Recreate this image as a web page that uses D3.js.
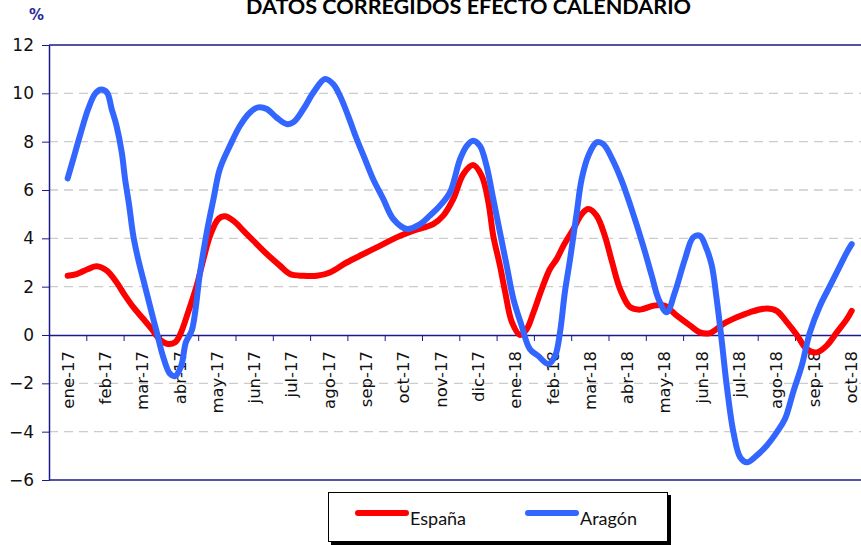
<!DOCTYPE html>
<html>
<head>
<meta charset="utf-8">
<script src="https://cdn.jsdelivr.net/npm/d3@7"></script>
<style>
  body { margin: 0; background: #fff; }
  svg { display: block; }
</style>
</head>
<body>
<svg id="chart" width="861" height="545"></svg>
<script>
// month labels on the x axis
const meses = ["ene-17","feb-17","mar-17","abr-17","may-17","jun-17","jul-17","ago-17","sep-17","oct-17","nov-17","dic-17",
               "ene-18","feb-18","mar-18","abr-18","may-18","jun-18","jul-18","ago-18","sep-18","oct-18"];
const yTicks = [-6, -4, -2, 0, 2, 4, 6, 8, 10, 12];

// position in months (0 = ene-17) and value
const espanaMes = [0,0.24,0.55,0.78,1.05,1.31,1.54,1.76,2.03,2.25,2.48,2.69,2.88,3.01,3.23,3.46,3.64,3.82,4.04,4.22,4.44,4.71,4.98,
  5.34,5.69,5.96,6.32,6.68,7.03,7.48,7.93,8.37,8.82,9.27,9.8,10.07,10.34,10.61,10.87,11.1,11.28,11.41,11.59,11.73,11.91,12.13,
  12.31,12.49,12.71,12.93,13.11,13.29,13.56,13.78,13.96,14.18,14.4,14.59,14.81,15.08,15.35,15.7,16.01,16.33,16.69,16.95,17.22,
  17.58,17.94,18.29,18.74,19.01,19.28,19.55,19.81,20.08,20.35,20.62,20.89,21.02];
const espana = [2.45,2.52,2.73,2.84,2.66,2.18,1.63,1.15,0.66,0.25,-0.2,-0.37,-0.3,0,0.94,2.04,3.14,4.11,4.8,4.91,4.73,4.32,3.9,
  3.35,2.87,2.52,2.45,2.45,2.59,3.0,3.35,3.69,4.04,4.32,4.59,4.94,5.63,6.66,7.03,6.59,5.49,4.11,2.87,1.77,0.53,0,
  0.25,0.94,1.9,2.73,3.14,3.69,4.39,5.0,5.21,4.94,4.11,3.05,1.9,1.15,1.05,1.21,1.21,0.8,0.39,0.11,0.08,
  0.46,0.73,0.94,1.1,1.0,0.53,0,-0.58,-0.72,-0.44,0.11,0.66,1.0];

const aragonMes = [0,0.15,0.33,0.55,0.73,0.87,1.05,1.18,1.31,1.45,1.54,1.65,1.76,1.89,2.07,2.25,2.39,2.56,2.74,2.88,3.04,3.17,3.33,
  3.55,3.73,3.91,4.08,4.35,4.62,4.89,5.11,5.34,5.6,5.87,6.05,6.32,6.59,6.9,7.12,7.3,7.52,7.75,7.97,8.19,8.46,8.73,9.09,9.45,
  9.71,9.98,10.25,10.52,10.7,10.87,11.05,11.23,11.41,11.59,11.77,11.95,12.17,12.39,12.61,12.89,13.07,13.2,13.33,13.47,13.65,
  13.78,13.96,14.18,14.36,14.6,14.85,15.1,15.43,15.66,15.84,16.06,16.28,16.55,16.77,16.95,17.13,17.27,17.4,17.54,17.67,17.85,
  18.03,18.21,18.47,18.74,19.01,19.23,19.45,19.68,19.9,20.17,20.44,20.71,20.89,21.02];
const aragon = [6.48,7.28,8.25,9.35,9.97,10.15,10.04,9.35,8.66,7.56,6.45,5.35,4.11,3.14,2.04,0.94,0.11,-0.9,-1.6,-1.7,-1.3,-0.3,0.2,
  2.59,4.25,5.63,6.87,7.83,8.66,9.21,9.42,9.35,9.0,8.73,8.8,9.35,10.04,10.59,10.38,9.9,9.07,8.11,7.28,6.45,5.63,4.8,4.39,4.59,
  4.94,5.35,5.9,7.28,7.83,8.04,7.83,7.0,5.63,4.25,2.87,1.49,0.39,-0.58,-0.86,-1.2,-0.86,0.11,1.77,3.14,5.08,
  6.45,7.42,7.97,7.9,7.28,6.4,5.3,3.69,2.45,1.49,0.94,1.77,3.14,4.04,4.11,3.56,2.87,1.49,-0.3,-2.1,-4.03,
  -5.06,-5.27,-4.99,-4.58,-4.03,-3.48,-2.37,-1.27,0.11,1.21,2.04,2.87,3.42,3.76];

const navy = "#1a1a8c";
const svg = d3.select("#chart");
const plotL = 49, plotR = 869.6, plotT = 45, plotB = 480;

const x = d3.scaleLinear().domain([0, meses.length]).range([plotL, plotR]);
const y = d3.scaleLinear().domain([-6, 12]).range([plotB, plotT]);

// title (cut at the top edge like the original)
svg.append("text")
  .attr("x", 468.5).attr("y", 14)
  .attr("text-anchor", "middle")
  .style("font-family", "Lato").style("font-weight", "bold").style("font-size", "21.6px")
  .text("DATOS CORREGIDOS EFECTO CALENDARIO");

svg.append("text")
  .attr("x", 29).attr("y", 20)
  .style("font-family", "DejaVu Sans").style("font-weight", "bold").style("font-size", "15px")
  .attr("fill", "#2b2b9c")
  .text("%");

// dashed grid
svg.append("g").selectAll("line")
  .data(yTicks.filter(d => d !== 0 && d !== 12 && d !== -6))
  .join("line")
  .attr("x1", plotL).attr("x2", plotR)
  .attr("y1", d => y(d)).attr("y2", d => y(d))
  .attr("stroke", "#cccccc").attr("stroke-width", 1.3)
  .attr("stroke-dasharray", "9,6");

// frame top / bottom
svg.append("line").attr("x1", plotL).attr("x2", plotR).attr("y1", plotT).attr("y2", plotT)
  .attr("stroke", navy).attr("stroke-width", 1.5);
svg.append("line").attr("x1", plotL).attr("x2", plotR).attr("y1", plotB).attr("y2", plotB)
  .attr("stroke", navy).attr("stroke-width", 1.5);

// y axis
const yAxis = svg.append("g")
  .attr("transform", `translate(${plotL},0)`)
  .call(d3.axisLeft(y).tickValues(yTicks).tickSize(7).tickSizeOuter(0).tickPadding(8));
yAxis.select(".domain").attr("stroke", navy).attr("stroke-width", 1.5);
yAxis.selectAll(".tick line").attr("stroke", navy);
yAxis.selectAll("text")
  .style("font-family", "DejaVu Sans").style("font-size", "17px").attr("fill", "#111");

// x axis on zero line
const xAxis = svg.append("g")
  .attr("transform", `translate(0,${y(0)})`)
  .call(d3.axisBottom(x).tickValues(d3.range(0, meses.length + 1)).tickSize(6).tickSizeOuter(0).tickFormat(""));
xAxis.select(".domain").attr("stroke", navy).attr("stroke-width", 1.5);
xAxis.selectAll(".tick line").attr("stroke", navy);

svg.append("g").selectAll("text")
  .data(meses)
  .join("text")
  .attr("transform", (d, i) => `translate(${x(i + 0.5) + 6},${y(0) + 16}) rotate(-90)`)
  .attr("text-anchor", "end")
  .style("font-family", "DejaVu Sans").style("font-size", "16.5px").attr("fill", "#111")
  .text(d => d);

// series
const line = d3.line()
  .x(d => x(d[0] + 0.5))
  .y(d => y(d[1]))
  .curve(d3.curveCatmullRom.alpha(0.5));

svg.append("path")
  .datum(espanaMes.map((m, i) => [m, espana[i]]))
  .attr("d", line)
  .attr("fill", "none").attr("stroke", "#ff0000").attr("stroke-width", 6)
  .attr("stroke-linejoin", "round").attr("stroke-linecap", "round");

svg.append("path")
  .datum(aragonMes.map((m, i) => [m, aragon[i]]))
  .attr("d", line)
  .attr("fill", "none").attr("stroke", "#3366ff").attr("stroke-width", 6)
  .attr("stroke-linejoin", "round").attr("stroke-linecap", "round");

// legend
const lg = svg.append("g");
lg.append("rect").attr("x", 331).attr("y", 495).attr("width", 340).attr("height", 50).attr("fill", "#000");
lg.append("rect").attr("x", 328.5).attr("y", 492.5).attr("width", 339).attr("height", 49)
  .attr("fill", "#fff").attr("stroke", "#000").attr("stroke-width", 1);
const series = [["España", "#ff0000", 358], ["Aragón", "#3366ff", 528]];
series.forEach(([name, col, lx]) => {
  lg.append("line").attr("x1", lx).attr("x2", lx + 48).attr("y1", 513).attr("y2", 513)
    .attr("stroke", col).attr("stroke-width", 6).attr("stroke-linecap", "round");
  lg.append("text").attr("x", lx + 52).attr("y", 525)
    .style("font-family", "Lato").style("font-size", "18px").attr("fill", "#111")
    .text(name);
});
</script>
</body>
</html>
